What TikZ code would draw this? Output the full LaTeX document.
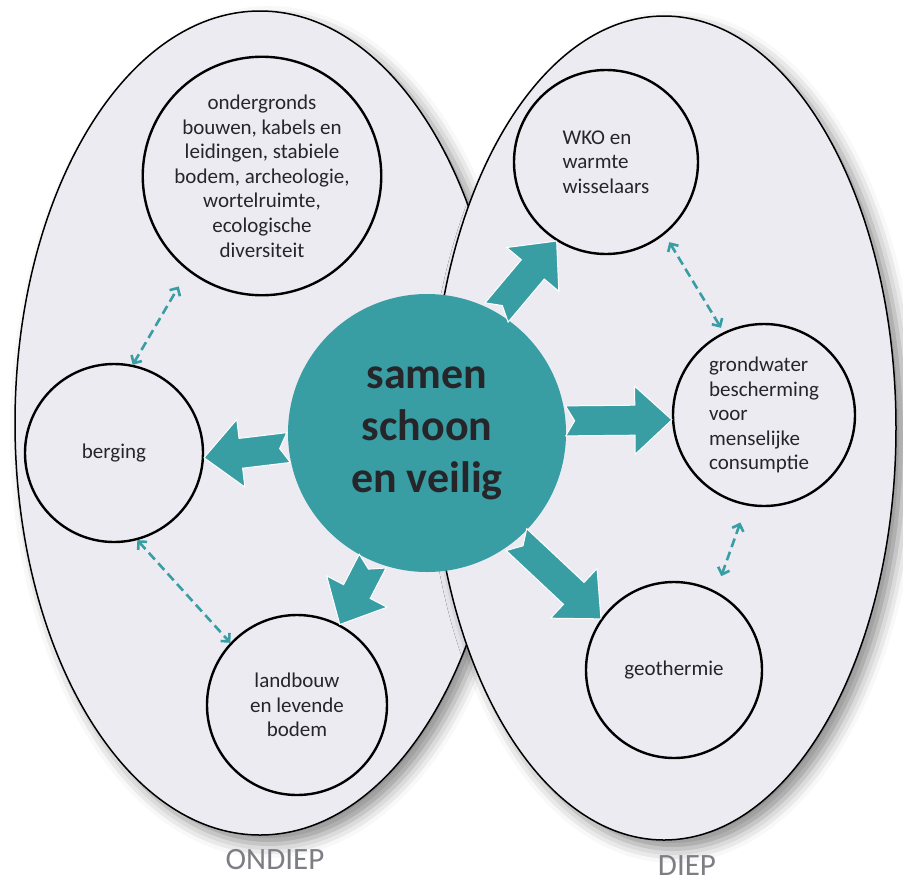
\documentclass[tikz,border=0pt]{standalone}
\usepackage{fontspec}
\setmainfont{Carlito}
\usetikzlibrary{shapes.geometric,arrows.meta,calc,shadows.blur,positioning}
\definecolor{sbteal}{RGB}{56,158,164}
\definecolor{zonefill}{RGB}{236,235,241}
\definecolor{inktext}{RGB}{38,38,42}
\definecolor{layergrey}{RGB}{125,125,132}

% fat block arrow with notched tail, from #1 to #2
\newcommand{\fatarrow}[2]{%
  \fill[fatarrow] let \p1=(#1), \p2=(#2),
    \n1={atan2(\y2-\y1,\x2-\x1)}, \n2={veclen(\x2-\x1,\y2-\y1)} in
    ($(\p1)+(\n1+90:15pt)$) -- ($(\p1)+(\n1:{\n2-37pt})+(\n1+90:15pt)$)
    -- ($(\p1)+(\n1:{\n2-37pt})+(\n1+90:34pt)$) -- (\p2)
    -- ($(\p1)+(\n1:{\n2-37pt})+(\n1-90:34pt)$) -- ($(\p1)+(\n1:{\n2-37pt})+(\n1-90:15pt)$)
    -- ($(\p1)+(\n1-90:15pt)$) -- ($(\p1)+(\n1:9pt)$) -- cycle;
}

\begin{document}
\begin{tikzpicture}[
    x=1pt, y=-1pt,
    zone/.style={ellipse, draw=black, line width=1.5pt, fill=zonefill, inner sep=0pt,
      blur shadow={shadow xshift=9pt, shadow yshift=-9pt, shadow blur radius=14pt, shadow opacity=45}},
    topic/.style={circle, draw=black, line width=2.4pt, inner sep=0pt, align=center, text=inktext,
      font=\fontsize{21}{24.6}\selectfont},
    core/.style={circle, fill=sbteal, minimum size=278pt, inner sep=0pt, align=center, text=inktext,
      font=\bfseries\fontsize{44}{52}\selectfont},
    layer/.style={text=layergrey, font=\fontsize{31}{34}\selectfont},
    fatarrow/.style={fill=sbteal, draw=white, line width=1pt, line join=miter},
    link/.style={draw=sbteal, line width=2.6pt, dash pattern=on 9pt off 5pt,
      {Straight Barb[length=6pt,width=12pt]}-{Straight Barb[length=6pt,width=12pt]}}
]
\useasboundingbox (0,0) rectangle (903,887);

% Zones
\node[zone, minimum width=490pt, minimum height=824pt] (ondiep) at (260,423) {};
\node[zone, minimum width=464pt, minimum height=824pt] (diep) at (664,428) {};

% Shallow themes
\node[topic, minimum size=224pt] (ond) at (262,176) {ondergronds\\bouwen, kabels en\\leidingen, stabiele\\bodem, archeologie,\\wortelruimte,\\ecologische\\diversiteit};
\node[topic, minimum size=178pt] (berg) at (114,453) {berging};
\node[topic, minimum size=180pt] (land) at (297,705) {landbouw\\en levende\\bodem};

% Deep themes
\node[topic, minimum size=184pt, align=left] (wko) at (606,162) {WKO en\\warmte\\wisselaars};
\node[topic, minimum size=182pt, align=left] (grond) at (764,415) {grondwater\\bescherming\\voor\\menselijke\\consumptie};
\node[topic, minimum size=176pt] (geo) at (674,670) {geothermie};

% Centre
\node[core] (core) at (427,433) {samen\\schoon\\en veilig};

% Layer labels
\node[layer] (ondlabel) at (275,860) {ONDIEP};
\node[layer] (dieplabel) at (687,866) {DIEP};

% Block arrows
\fatarrow{core.186}{berg.-3}
\fatarrow{core.60}{wko.238}
\fatarrow{core.5}{grond.183}
\fatarrow{core.-50}{geo.145}
\fatarrow{core.247}{land.62}

% Links
\draw[link, shorten >=18pt] (berg.78) -- (ond.232);
\draw[link] (berg.-75) -- (land.137);
\draw[link, shorten <=9pt, shorten >=5pt] (wko.-51) -- (grond.116);
\draw[link, shorten <=18pt, shorten >=16pt] (grond.-101) -- (geo.62);

\end{tikzpicture}
\end{document}
